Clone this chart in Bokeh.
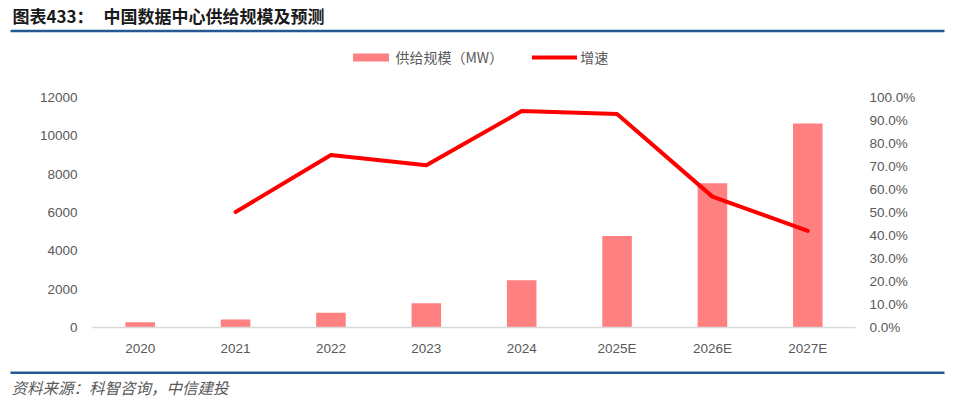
from bokeh.plotting import figure
from bokeh.models import (ColumnDataSource, Range1d, LinearAxis, FactorRange, FixedTicker,
                          NumeralTickFormatter, Legend, LegendItem)
from bokeh.layouts import column, row
from bokeh.core.properties import value
from bokeh.embed import file_html
from bokeh.resources import INLINE

# ---------------- data ----------------
categories = ["2020", "2021", "2022", "2023", "2024", "2025E", "2026E", "2027E"]
supply_mw = [280, 420, 770, 1270, 2470, 4780, 7530, 10640]
growth_cats = ["2021", "2022", "2023", "2024", "2025E", "2026E", "2027E"]
growth_rate = [0.502, 0.750, 0.705, 0.941, 0.928, 0.569, 0.420]
left_ticks = [0, 2000, 4000, 6000, 8000, 10000, 12000]
right_ticks = [0.0, 0.1, 0.2, 0.3, 0.4, 0.5, 0.6, 0.7, 0.8, 0.9, 1.0]

title_prefix = "图表433："
title_text = "中国数据中心供给规模及预测"
source_text = "资料来源：科智咨询，中信建投"
bar_label = "供给规模（MW）"
line_label = "增速"

CJK = "Noto Sans CJK SC"
NUM = "Liberation Sans"
GRAY = "#595959"
BLUE = "#245a93"
BAR = "#ff8080"
RED = "#ff0000"

# ---------------- header (title + legend) ----------------
HH = 75
header = figure(width=960, height=HH, x_range=Range1d(0, 960), y_range=Range1d(HH, 0),
                output_backend="svg", toolbar_location=None, min_border=0)
header.axis.visible = False
header.grid.visible = False
header.outline_line_color = None
header.text(x=[12], y=[15], text=[title_prefix], text_font=value(CJK), text_font_style="bold",
            text_font_size="17px", text_color="#1a1a1a", text_baseline="middle", text_align="left")
header.text(x=[103], y=[15], text=[title_text], text_font=value(CJK), text_font_style="bold",
            text_font_size="17px", text_color="#1a1a1a", text_baseline="middle", text_align="left")
header.segment(x0=[10], y0=[30.5], x1=[944], y1=[30.5], line_color=BLUE, line_width=2.5)

# legend swatches (same styles as the chart's series; placed off-canvas, only used by the legend)
lg_bar = header.vbar(x=[-500], top=[-500], bottom=[-501], width=1, fill_color=BAR, line_color=None)
lg_line = header.line(x=[-500, -499], y=[-500, -500], line_color=RED, line_width=4, line_cap="round")
legend = Legend(items=[LegendItem(label=bar_label, renderers=[lg_bar], index=0),
                       LegendItem(label=line_label, renderers=[lg_line])],
                orientation="horizontal", location=(347.5, HH - 67),
                padding=0, margin=0, spacing=29, label_standoff=3,
                glyph_width=45, glyph_height=10, label_height=16,
                border_line_alpha=0, background_fill_alpha=0,
                label_text_font=CJK, label_text_font_size="14px", label_text_color=GRAY)
header.add_layout(legend, "center")

# ---------------- main chart ----------------
p = figure(width=960, height=291, x_range=FactorRange(*categories, range_padding=0),
           y_range=Range1d(0, 12000), output_backend="svg", toolbar_location=None,
           min_border_top=22, min_border_bottom=39, min_border_left=92, min_border_right=105)
p.extra_y_ranges = {"pct": Range1d(0, 1.0)}
p.outline_line_color = None
p.grid.visible = False
p.background_fill_color = "white"

src = ColumnDataSource(dict(cat=categories, val=supply_mw))
p.vbar(x="cat", top="val", width=0.31, source=src, fill_color=BAR, line_color=None)
gsrc = ColumnDataSource(dict(cat=growth_cats, val=growth_rate))
p.line(x="cat", y="val", source=gsrc, y_range_name="pct", line_color=RED, line_width=4,
       line_join="round", line_cap="round")

# x axis
xa = p.xaxis[0]
xa.axis_line_color = "#d9d9d9"
xa.axis_line_width = 1.5
xa.major_tick_line_color = None
xa.minor_tick_line_color = None
xa.major_label_text_font = NUM
xa.major_label_text_font_size = "13.5px"
xa.major_label_text_color = GRAY
xa.major_label_standoff = 7

# left axis
ya = p.yaxis[0]
ya.ticker = FixedTicker(ticks=left_ticks)
ya.formatter = NumeralTickFormatter(format="0")
ya.axis_line_color = None
ya.major_tick_line_color = None
ya.minor_tick_line_color = None
ya.major_label_text_font = NUM
ya.major_label_text_font_size = "13.5px"
ya.major_label_text_color = GRAY
ya.major_label_standoff = 9

# right axis
ra = LinearAxis(y_range_name="pct", ticker=FixedTicker(ticks=right_ticks),
                formatter=NumeralTickFormatter(format="0.0%"))
ra.axis_line_color = None
ra.major_tick_line_color = None
ra.minor_tick_line_color = None
ra.major_label_text_font = NUM
ra.major_label_text_font_size = "13.5px"
ra.major_label_text_color = GRAY
ra.major_label_standoff = 8
p.add_layout(ra, "right")

# ---------------- footer ----------------
footer = figure(width=960, height=41, x_range=Range1d(0, 960), y_range=Range1d(41, 0),
                output_backend="svg", toolbar_location=None, min_border=0)
footer.axis.visible = False
footer.grid.visible = False
footer.outline_line_color = None
footer.segment(x0=[10], y0=[6.3], x1=[944], y1=[6.3], line_color=BLUE, line_width=2.5)
footer.text(x=[11], y=[20], text=[source_text], text_font=value(CJK), text_font_style="italic",
            text_font_size="15.5px", text_color=GRAY, text_baseline="middle", text_align="left")

layout = column(row(header), row(p), row(footer), spacing=0)
open("out.html", "w").write(file_html(layout, INLINE))
